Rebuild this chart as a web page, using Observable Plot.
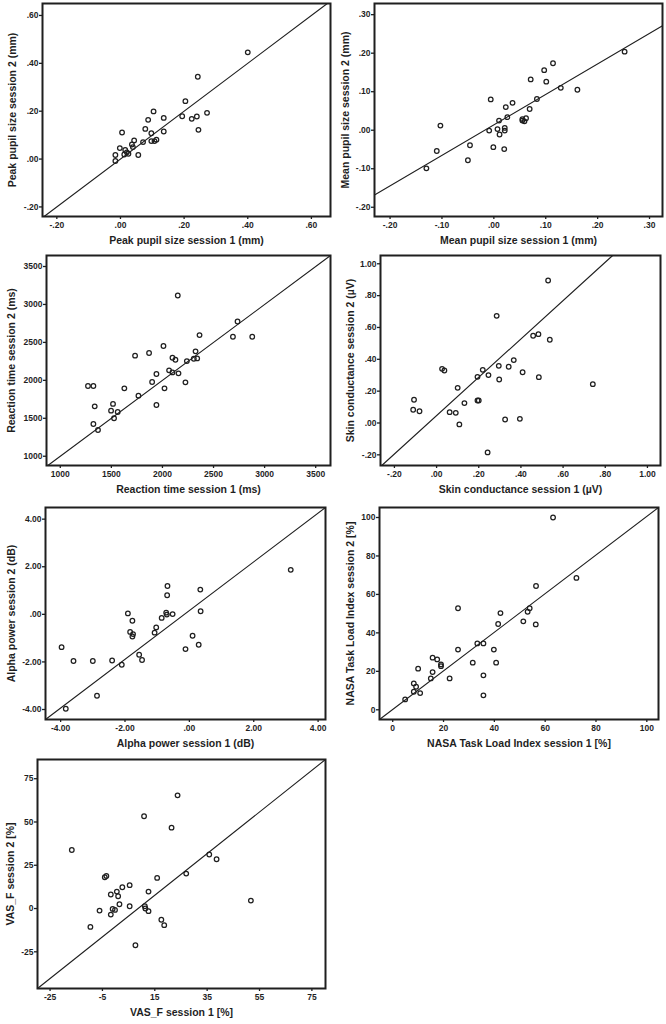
<!DOCTYPE html>
<html><head><meta charset="utf-8">
<script src="https://cdn.jsdelivr.net/npm/d3@7"></script>
<script src="https://cdn.jsdelivr.net/npm/@observablehq/plot@0.6"></script>
<style>
html,body{margin:0;padding:0;background:#fff;}
#fig{position:relative;width:666px;height:1024px;overflow:hidden;background:#fff;}
.panel{position:absolute;}
.panel svg{display:block;}
</style></head><body><div id="fig"></div>
<script>
// ---------- data (session 1 = x, session 2 = y) ----------
const peakS1 = [0.400,0.243,0.204,0.104,0.136,0.087,0.194,0.224,0.240,0.272,0.245,0.078,0.136,0.005,0.097,0.043,0.071,0.097,0.113,0.107,0.036,0.039,-0.002,0.015,0.020,0.025,0.012,-0.016,0.056,-0.016];
const peakS2 = [0.446,0.344,0.242,0.199,0.172,0.164,0.179,0.168,0.178,0.193,0.122,0.126,0.115,0.111,0.108,0.078,0.071,0.075,0.081,0.075,0.061,0.050,0.046,0.038,0.028,0.022,0.019,0.017,0.017,-0.008];

const meanS1 = [0.252,0.114,0.097,0.071,0.101,0.129,0.161,0.083,-0.006,0.036,0.023,0.069,0.026,0.010,0.055,0.062,0.059,0.055,-0.103,-0.009,0.007,0.021,0.021,0.011,-0.046,-0.001,0.020,-0.110,-0.050,-0.130];
const meanS2 = [0.204,0.174,0.156,0.132,0.126,0.110,0.105,0.081,0.080,0.071,0.060,0.055,0.034,0.025,0.029,0.031,0.023,0.025,0.012,-0.001,0.003,0.006,-0.001,-0.011,-0.039,-0.044,-0.049,-0.054,-0.078,-0.099];

const rtS1 = [2150,2735,2363,2690,2879,2010,1732,1869,2324,2098,2127,2239,2307,2340,2065,2098,2157,1941,1899,2225,1271,1324,1627,2020,1765,1516,1941,1337,1497,1562,1526,1324,1369];
const rtS2 = [3118,2776,2596,2575,2575,2452,2325,2360,2382,2298,2272,2254,2285,2289,2132,2105,2092,2083,1978,1974,1925,1925,1895,1895,1798,1689,1675,1658,1601,1583,1500,1425,1346];

const scS1 = [0.529,0.285,0.458,0.483,0.537,0.366,0.295,0.342,0.408,0.026,0.037,0.219,0.194,0.246,0.297,0.485,0.741,0.100,-0.107,0.194,0.200,0.132,-0.111,-0.081,0.062,0.091,0.108,0.325,0.395,0.242];
const scS2 = [0.895,0.673,0.548,0.558,0.523,0.395,0.359,0.353,0.319,0.340,0.330,0.334,0.290,0.301,0.273,0.288,0.244,0.221,0.146,0.141,0.141,0.125,0.083,0.074,0.068,0.064,-0.009,0.022,0.026,-0.185];

const alphaS1 = [3.15,-0.68,0.34,-0.69,-1.91,-0.72,-0.70,-0.52,0.35,-1.77,-0.86,-1.03,-1.84,-1.75,-1.77,-1.08,0.10,-3.97,-0.12,0.29,-1.56,-1.47,-3.60,-3.00,-2.40,-2.10,-2.87,-3.84];
const alphaS2 = [1.87,1.19,1.04,0.80,0.04,0.07,-0.01,0.01,0.13,-0.27,-0.15,-0.55,-0.74,-0.83,-0.93,-0.77,-0.90,-1.38,-1.46,-1.28,-1.70,-1.92,-1.96,-1.96,-1.94,-2.12,-3.42,-3.97];

const nasaS1 = [63.1,72.3,56.4,25.7,53.9,53.1,42.4,51.4,41.5,56.3,33.3,35.7,25.7,39.8,15.7,17.5,19.0,19.0,31.5,40.7,10.0,15.7,35.7,8.3,9.2,15.0,22.4,8.3,10.8,35.7,4.9];
const nasaS2 = [100,68.6,64.4,52.8,52.8,51.0,50.3,46.0,44.6,44.4,34.5,34.5,31.3,31.3,27.1,26.2,23.6,22.7,24.5,24.5,21.4,19.6,17.9,13.7,12.0,16.3,16.3,9.4,8.7,7.5,5.4];

const vasS1 = [23.7,10.9,21.4,-16.7,35.8,38.6,27.0,-3.5,-4.1,15.9,5.4,2.6,0.5,12.6,-1.8,1.0,1.5,5.4,11.2,11.4,-1.1,-0.2,12.6,-6.1,-1.8,51.7,17.5,18.6,-9.6,7.6];
const vasS2 = [65.4,53.3,46.7,33.8,31.2,28.5,20.2,18.8,18.1,17.7,13.5,12.3,9.8,9.8,8.1,7.1,2.5,1.3,1.3,0,-0.2,-0.8,-1.5,-1.2,-3.5,4.6,-6.5,-9.6,-10.6,-21.2];

// ---------- reference lines (end points in data units) ----------
const peakLineX = [-0.24, 0.65],  peakLineY = [-0.24, 0.65];
const meanLineX = [-0.23, 0.325], meanLineY = [-0.168, 0.271];
const rtLineX = [878, 3645],      rtLineY = [878, 3645];
const scLineX = [-0.26, 0.835],   scLineY = [-0.267, 1.052];
const alphaLineX = [-4.47, 4.23], alphaLineY = [-4.42, 4.49];
const nasaLineX = [-5.2, 104.6],  nasaLineY = [-5.05, 105.2];
const vasLineX = [-29.8, 80.2],   vasLineY = [-46.2, 86.1];

// ---------- ticks and labels ----------
const peakTicks = [-0.2, 0, 0.2, 0.4, 0.6];
const peakTickLabels = ["-.20", ".00", ".20", ".40", ".60"];
const meanTicks = [-0.2, -0.1, 0, 0.1, 0.2, 0.3];
const meanTickLabels = ["-.20", "-.10", ".00", ".10", ".20", ".30"];
const rtTicks = [1000, 1500, 2000, 2500, 3000, 3500];
const rtTickLabels = ["1000", "1500", "2000", "2500", "3000", "3500"];
const scTicks = [-0.2, 0, 0.2, 0.4, 0.6, 0.8, 1.0];
const scTickLabels = ["-.20", ".00", ".20", ".40", ".60", ".80", "1.00"];
const alphaTicks = [-4, -2, 0, 2, 4];
const alphaTickLabels = ["-4.00", "-2.00", ".00", "2.00", "4.00"];
const nasaTicks = [0, 20, 40, 60, 80, 100];
const nasaTickLabels = ["0", "20", "40", "60", "80", "100"];
const vasXTicks = [-25, -5, 15, 35, 55, 75];
const vasXTickLabels = ["-25", "-5", "15", "35", "55", "75"];
const vasYTicks = [-25, 0, 25, 50, 75];
const vasYTickLabels = ["-25", "0", "25", "50", "75"];

// ---------- axis titles ----------
const xTitles = ["Peak pupil size session 1 (mm)", "Mean pupil size session 1 (mm)", "Reaction time session 1 (ms)", "Skin conductance session 1 (µV)", "Alpha power session 1 (dB)", "NASA Task Load Index session 1 [%]", "VAS_F session 1 [%]"];
const yTitles = ["Peak pupil size session 2 (mm)", "Mean pupil size session 2 (mm)", "Reaction time session 2 (ms)", "Skin conductance session 2 (µV)", "Alpha power session 2 (dB)", "NASA Task Load Index session 2 [%]", "VAS_F session 2 [%]"];

// ---------- panel definitions ----------
const panels = [
  {x: peakS1, y: peakS2, lx: peakLineX, ly: peakLineY, xd: [-0.245, 0.66], yd: [-0.24, 0.65], xt: peakTicks, xl: peakTickLabels, yt: peakTicks, yl: peakTickLabels},
  {x: meanS1, y: meanS2, lx: meanLineX, ly: meanLineY, xd: [-0.23, 0.325], yd: [-0.224, 0.329], xt: meanTicks, xl: meanTickLabels, yt: meanTicks, yl: meanTickLabels},
  {x: rtS1, y: rtS2, lx: rtLineX, ly: rtLineY, xd: [865, 3645], yd: [878, 3645], xt: rtTicks, xl: rtTickLabels, yt: rtTicks, yl: rtTickLabels},
  {x: scS1, y: scS2, lx: scLineX, ly: scLineY, xd: [-0.266, 1.062], yd: [-0.267, 1.052], xt: scTicks, xl: scTickLabels, yt: scTicks, yl: scTickLabels},
  {x: alphaS1, y: alphaS2, lx: alphaLineX, ly: alphaLineY, xd: [-4.47, 4.23], yd: [-4.42, 4.49], xt: alphaTicks, xl: alphaTickLabels, yt: alphaTicks, yl: alphaTickLabels},
  {x: nasaS1, y: nasaS2, lx: nasaLineX, ly: nasaLineY, xd: [-5.2, 104.6], yd: [-5.05, 105.2], xt: nasaTicks, xl: nasaTickLabels, yt: nasaTicks, yl: nasaTickLabels},
  {x: vasS1, y: vasS2, lx: vasLineX, ly: vasLineY, xd: [-29.8, 80.2], yd: [-46.2, 86.1], xt: vasXTicks, xl: vasXTickLabels, yt: vasYTicks, yl: vasYTickLabels}
];

// ---------- layout (pixels) ----------
const layout = [
  {left: 0,   top: 0,   h: 252, ml: 42, mr: 3, mt: 3, mb: 36, ty: 12},
  {left: 333, top: 0,   h: 252, ml: 41, mr: 4, mt: 3, mb: 36, ty: 12},
  {left: 0,   top: 252, h: 252, ml: 46, mr: 3, mt: 3, mb: 39, ty: 11},
  {left: 333, top: 252, h: 252, ml: 47, mr: 6, mt: 3, mb: 39, ty: 17},
  {left: 0,   top: 504, h: 252, ml: 45, mr: 8, mt: 3, mb: 37, ty: 11},
  {left: 333, top: 504, h: 252, ml: 46, mr: 8, mt: 3, mb: 37, ty: 17},
  {left: 0,   top: 756, h: 268, ml: 37, mr: 8, mt: 3, mb: 36, ty: 10}
];

const ink = "#1f1f1f";
const fontFamily = "'Liberation Sans', Arial, sans-serif";
const fig = document.getElementById("fig");

panels.forEach((p, i) => {
  const L = layout[i];
  const pts = p.x.map((v, k) => ({s1: v, s2: p.y[k]}));
  const ref = p.lx.map((v, k) => ({s1: v, s2: p.ly[k]}));
  const xFmt = new Map(p.xt.map((t, k) => [t, p.xl[k]]));
  const yFmt = new Map(p.yt.map((t, k) => [t, p.yl[k]]));
  const chart = Plot.plot({
    width: 333,
    height: L.h,
    marginLeft: L.ml, marginRight: L.mr, marginTop: L.mt, marginBottom: L.mb,
    style: {fontFamily, fontSize: "8.5px", fontWeight: "bold", color: ink, background: "white", overflow: "visible"},
    x: {domain: p.xd, label: null},
    y: {domain: p.yd, label: null},
    marks: [
      Plot.axisX({ticks: p.xt, tickFormat: d => xFmt.get(d), tickSize: 3, tickPadding: 2, stroke: ink, strokeWidth: 1.3, fill: ink, fontWeight: "bold", fontSize: 8.5, label: null}),
      Plot.axisY({ticks: p.yt, tickFormat: d => yFmt.get(d), tickSize: 3, tickPadding: 1, stroke: ink, strokeWidth: 1.3, fill: ink, fontWeight: "bold", fontSize: 8.5, label: null}),
      Plot.line(ref, {x: "s1", y: "s2", stroke: ink, strokeWidth: 1.1}),
      Plot.dot(pts, {x: "s1", y: "s2", r: 2.3, stroke: ink, strokeWidth: 1.25, fill: "none"}),
      Plot.frame({stroke: ink, strokeWidth: 2}),
      Plot.text([xTitles[i]], {text: d => d, frameAnchor: "bottom", dy: 24, lineAnchor: "middle", textAnchor: "middle", fontSize: 10.5, fontWeight: "bold", fill: ink}),
      Plot.text([yTitles[i]], {text: d => d, frameAnchor: "left", dx: L.ty - L.ml, rotate: -90, lineAnchor: "middle", textAnchor: "middle", fontSize: 10.5, fontWeight: "bold", fill: ink})
    ]
  });
  const div = document.createElement("div");
  div.className = "panel";
  div.style.left = L.left + "px";
  div.style.top = L.top + "px";
  div.appendChild(chart);
  fig.appendChild(div);
});
</script>
</body></html>
